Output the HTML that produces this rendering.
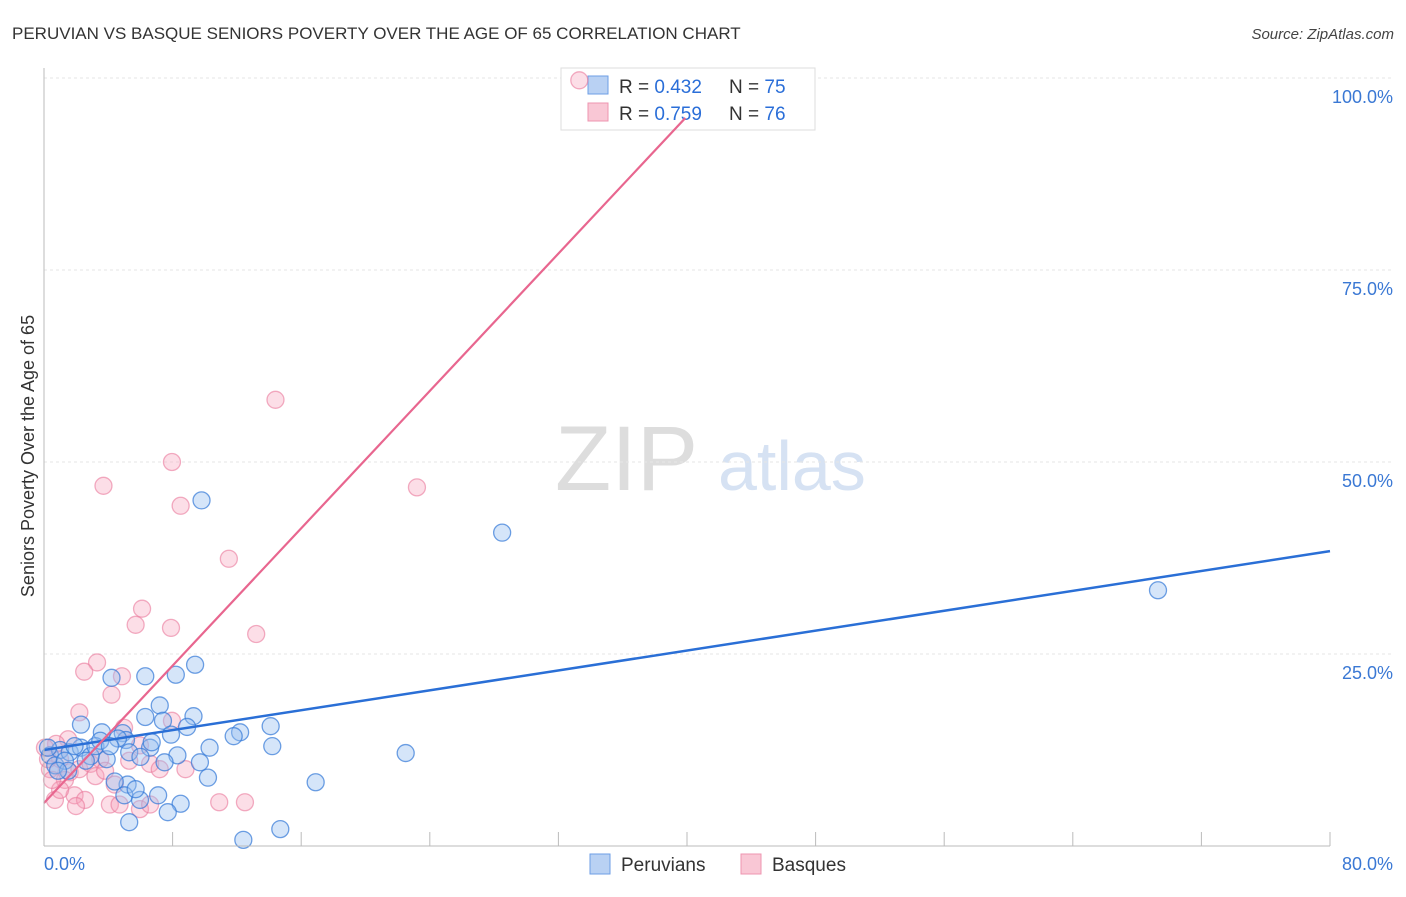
<!DOCTYPE html>
<html><head><meta charset="utf-8"><style>
body{margin:0;background:#fff;font-family:"Liberation Sans",sans-serif;}
svg text{font-family:"Liberation Sans",sans-serif;}
</style></head><body>
<svg id="chart" width="1406" height="892">
<text x="12" y="39" font-size="17" fill="#333">PERUVIAN VS BASQUE SENIORS POVERTY OVER THE AGE OF 65 CORRELATION CHART</text>
<text x="1394" y="39" font-size="15" fill="#444" font-style="italic" text-anchor="end">Source: ZipAtlas.com</text>
<text x="34" y="456" font-size="18" fill="#333" text-anchor="middle" transform="rotate(-90 34 456)">Seniors Poverty Over the Age of 65</text>
<text x="555" y="490" font-size="92" fill="#ddd" font-family="Liberation Serif">ZIP</text>
<text x="718" y="490" font-size="70" fill="#d6e2f3">atlas</text>
<g id="grid"></g>
<g>
<rect x="561" y="68" width="254" height="62" fill="#fff" stroke="#ddd"/>
<rect x="588" y="76" width="20" height="18" fill="#b9d1f3" stroke="#6d9ee6"/>
<rect x="588" y="103" width="20" height="18" fill="#f9c7d5" stroke="#ee94b0"/>
<text x="619" y="93" font-size="19" fill="#333">R = <tspan fill="#2a6ed8">0.432</tspan></text>
<text x="729" y="93" font-size="19" fill="#333">N = <tspan fill="#2a6ed8">75</tspan></text>
<text x="619" y="120" font-size="19" fill="#333">R = <tspan fill="#2a6ed8">0.759</tspan></text>
<text x="729" y="120" font-size="19" fill="#333">N = <tspan fill="#2a6ed8">76</tspan></text>
</g>
<g id="pts"></g><g id="lines"></g>
<line x1="44" y1="68" x2="44" y2="846" stroke="#bbb"/>
<line x1="44" y1="846" x2="1330" y2="846" stroke="#bbb"/>
<text x="44" y="870" font-size="18" fill="#3a78d4">0.0%</text>
<text x="1393" y="870" font-size="18" fill="#3a78d4" text-anchor="end">80.0%</text>
<g>
<rect x="590" y="854" width="20" height="20" fill="#b9d1f3" stroke="#6d9ee6"/>
<text x="621" y="871" font-size="19" fill="#333">Peruvians</text>
<rect x="741" y="854" width="20" height="20" fill="#f9c7d5" stroke="#ee94b0"/>
<text x="772" y="871" font-size="19" fill="#333">Basques</text>
</g>
</svg>
<script>
const yTicks=[25,50,75,100];
const yTickLabels=["25.0%","50.0%","75.0%","100.0%"];
const xTicks=[0,8,16,24,32,40,48,56,64,72,80];
const blueX=[9.8,28.5,69.3,9.4,6.3,8.2,4.2,2.3,7.2,9.3,6.3,7.4,8.9,4.9,7.9,3.6,5.1,12.2,11.8,14.1,14.2,10.3,6.6,8.3,5.3,7.5,3.9,22.5,9.7,10.2,16.9,5.2,4.4,5.0,7.1,5.97,8.5,5.3,7.7,12.4,14.7,0.37,1.0,1.6,2.3,2.9,0.7,1.3,1.9,3.2,3.5,2.6,4.6,1.5,0.87,4.1,0.25,6.0,6.7,5.7];
const blueY=[45.0,40.8,33.3,23.6,22.1,22.3,21.9,15.8,18.3,16.9,16.8,16.3,15.5,14.7,14.5,14.8,13.8,14.8,14.3,15.6,13.0,12.8,12.8,11.8,12.2,10.9,11.3,12.1,10.9,8.9,8.3,8.0,8.4,6.6,6.6,6.0,5.5,3.1,4.4,0.8,2.2,11.8,12.5,12.2,12.8,11.7,10.5,11.1,13.0,13.0,13.7,11.1,14.0,9.8,9.8,13.0,12.8,11.6,13.5,7.4];
const pinkX=[33.3,14.4,7.96,3.7,23.2,8.5,11.5,6.1,5.7,7.9,13.2,3.3,2.5,4.85,4.2,2.2,4.98,7.96,1.5,0.75,1.0,0.37,1.6,2.2,2.9,3.5,1.3,1.9,0.68,2.55,4.1,4.4,6.6,7.2,8.8,10.9,12.5,4.7,5.97,6.6,1.99,1.0,0.25,0.5,3.2,3.8,5.3,5.97,0.06];
const pinkY=[99.7,58.1,50.0,46.9,46.7,44.3,37.4,30.9,28.8,28.4,27.6,23.9,22.7,22.1,19.7,17.4,15.4,16.3,13.9,13.3,11.3,10.0,9.6,10.0,10.7,11.3,8.6,6.6,6.0,6.0,5.4,8.0,10.7,10.0,10.0,5.7,5.7,5.4,4.8,5.4,5.2,7.3,11.3,8.6,9.1,9.8,11.1,13.1,12.8];
const blueFit=[12.5,38.4];
const pinkFit=[5.6,94.8];
const pinkFitX=[0,39.9];
const X=v=>44+v*16.075, Y=v=>846-v*7.68;
const NS="http://www.w3.org/2000/svg";
function mk(tag,attrs,parent){const e=document.createElementNS(NS,tag);for(const k in attrs)e.setAttribute(k,attrs[k]);document.getElementById(parent).appendChild(e);return e;}
yTicks.forEach((t,i)=>{
 const l=mk('line',{x1:44,x2:1394,y1:Y(t),y2:Y(t),stroke:'#e6e6e6','stroke-dasharray':'3,3'},'grid');
 
 
 const tx=mk('text',{x:1393,y:Y(t)+25,'font-size':18,fill:'#3a78d4','text-anchor':'end'},'grid');
 tx.textContent=yTickLabels[i];
 
 
});
xTicks.forEach(t=>{
 const l=mk('line',{x1:X(t),x2:X(t),y1:832,y2:846,stroke:'#bbb'},'grid');
 
 
});
pinkX.forEach((v,i)=>{
 const c=mk('circle',{cx:X(v),cy:Y(pinkY[i]),r:8.5,fill:'rgba(246,160,186,0.35)',stroke:'rgba(233,120,155,0.6)','stroke-width':1.3},'pts');
 
 
});
blueX.forEach((v,i)=>{
 const c=mk('circle',{cx:X(v),cy:Y(blueY[i]),r:8.5,fill:'rgba(150,190,240,0.4)',stroke:'rgba(50,120,215,0.7)','stroke-width':1.3},'pts');
 
 
});
const bl=mk('line',{x1:X(0),y1:Y(blueFit[0]),x2:X(80),y2:Y(blueFit[1]),stroke:'#2a6fd6','stroke-width':2.5},'lines');


const pl=mk('line',{x1:X(pinkFitX[0]),y1:Y(pinkFit[0]),x2:X(pinkFitX[1]),y2:Y(pinkFit[1]),stroke:'#e8668f','stroke-width':2.2},'lines');


</script>
</body></html>
